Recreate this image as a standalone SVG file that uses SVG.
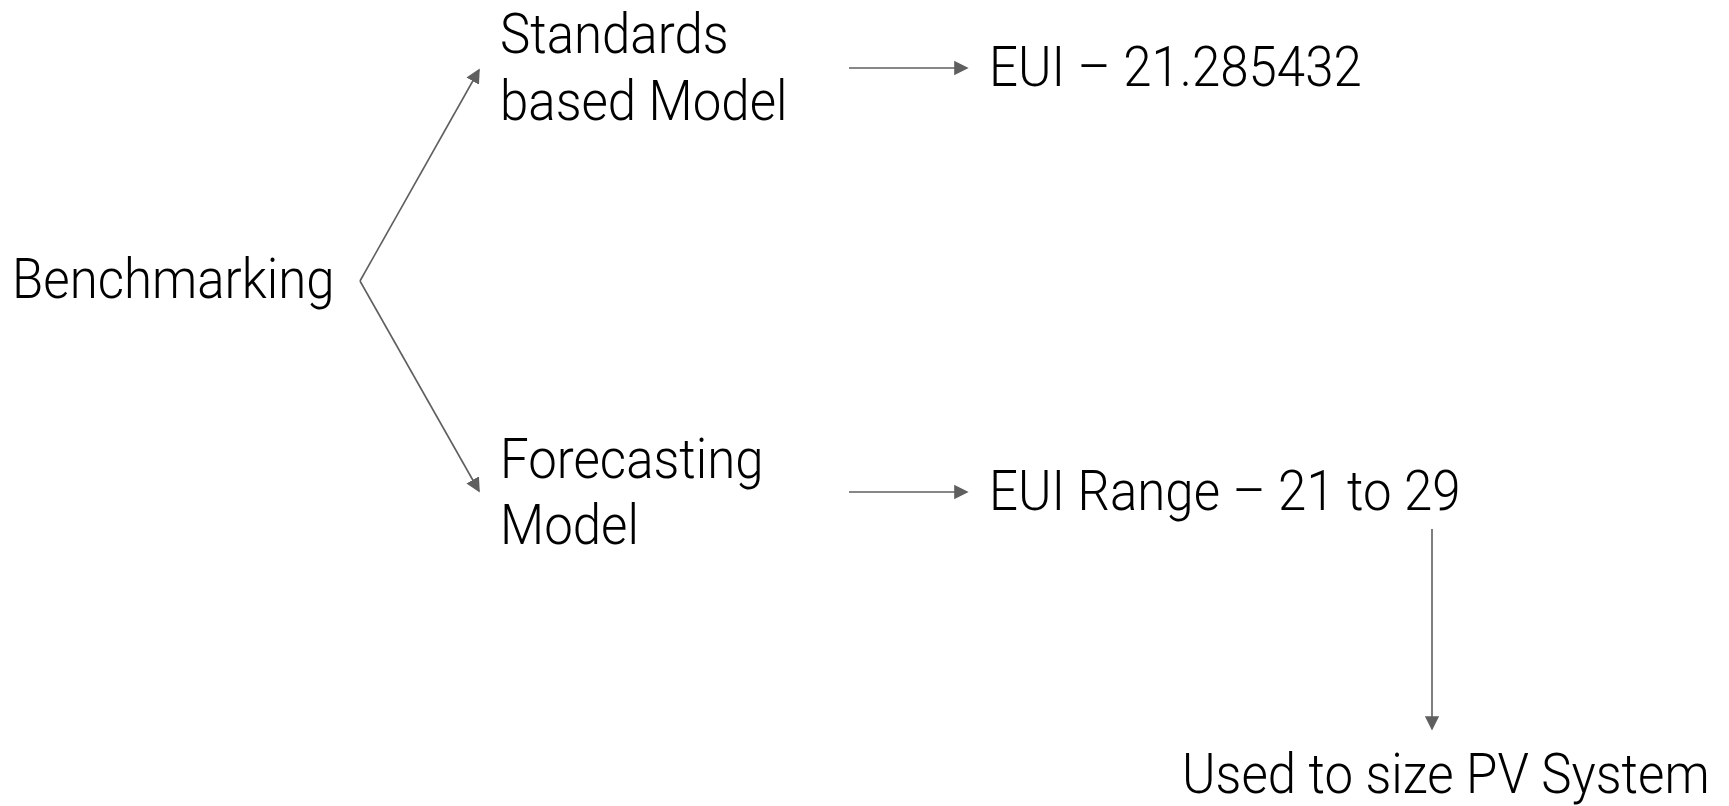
<svg xmlns="http://www.w3.org/2000/svg" width="1729" height="806" viewBox="0 0 1729 806">
  <style>
    /* Roboto Light, drawn slightly tall: each label is placed by translate() then stretched 1.1x vertically */
    .lbl { font-family: Roboto, "Liberation Sans", sans-serif; font-weight: 300; font-size: 51px; fill: #000000; }
    .edge { stroke: #5f5f5f; stroke-width: 1.6; fill: none; marker-end: url(#head); }
  </style>
  <defs>
    <marker id="head" markerWidth="9" markerHeight="9" refX="8" refY="4.5" orient="auto" markerUnits="strokeWidth">
      <path d="M0,0 L9,4.5 L0,9 Z" fill="#5f5f5f"/>
    </marker>
  </defs>
  <rect width="1729" height="806" fill="#ffffff"/>

  <g id="connectors">
    <path class="edge" d="M360,281 L479,70"/>
    <path class="edge" d="M360,281 L479,491"/>
    <path class="edge" d="M849,68 L967,68"/>
    <path class="edge" d="M849,492 L967,492"/>
    <path class="edge" d="M1432,529 L1432,729"/>
  </g>

  <g id="benchmarking">
    <text class="lbl" transform="translate(12,298) scale(1,1.1)">Benchmarking</text>
  </g>
  <g id="standards-model">
    <text class="lbl" transform="translate(500,53) scale(1,1.1)">Standards</text>
    <text class="lbl" transform="translate(500,120) scale(1,1.1)">based Model</text>
  </g>
  <g id="forecasting-model">
    <text class="lbl" transform="translate(500,478) scale(1,1.1)">Forecasting</text>
    <text class="lbl" transform="translate(500,544) scale(1,1.1)">Model</text>
  </g>
  <g id="eui-value">
    <text class="lbl" transform="translate(989,86) scale(1,1.1)">EUI – 21.285432</text>
  </g>
  <g id="eui-range">
    <text class="lbl" transform="translate(989,510) scale(1,1.1)">EUI Range – 21 to 29</text>
  </g>
  <g id="pv-sizing">
    <text class="lbl" transform="translate(1182,793) scale(1,1.1)">Used to size PV System</text>
  </g>
</svg>
